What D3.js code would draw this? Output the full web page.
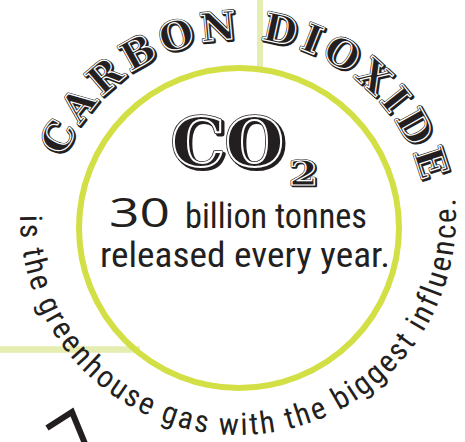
<!DOCTYPE html>
<html>
<head>
<meta charset="utf-8">
<script src="https://cdn.jsdelivr.net/npm/d3@7"></script>
<style>
  html, body { margin: 0; padding: 0; background: #fff; }
  svg { display: block; }
</style>
</head>
<body>
<div id="chart"></div>
<script>
// text content of the graphic
const headline = ["CARBON", "DIOXIDE"];
const formula = ["CO", "2"];
const statValue = ["30"];
const statLines = ["billion tonnes", "released every year."];
const caption = ["is the greenhouse gas with the biggest influence."];

const W = 465, H = 442;
const ink = '#231f20';
const green = '#d2df45';
const pale = '#e6edb0';

const svg = d3.select('#chart')
  .append('svg')
  .attr('width', W)
  .attr('height', H);

// ring centre / radius
const cx = 239, cy = 228, R = 160;

// pale connector lines (behind the ring)
svg.append('line')
  .attr('x1', 260).attr('x2', 260)
  .attr('y1', 0).attr('y2', cy - R + 2)
  .attr('stroke', pale).attr('stroke-width', 6);

svg.append('line')
  .attr('x1', 0).attr('x2', 140)
  .attr('y1', 349.5).attr('y2', 349.5)
  .attr('stroke', pale).attr('stroke-width', 6.5);

svg.append('circle')
  .attr('cx', cx).attr('cy', cy).attr('r', R)
  .attr('fill', 'none')
  .attr('stroke', green)
  .attr('stroke-width', 6);

const deg = d => d * Math.PI / 180;

// puts a string on an arc and spreads it to fill the arc
function arcText(id, ox, oy, r, a0, a1, ccw, str, font, layers) {
  const p = d3.path();
  p.arc(ox, oy, r, deg(a0), deg(a1), ccw);
  svg.append('path')
    .attr('id', id)
    .attr('d', p.toString())
    .attr('fill', 'none');

  const target = r * Math.abs(deg(a1) - deg(a0));

  // measure natural length
  const probe = svg.append('text')
    .style('font-family', font.family)
    .style('font-size', font.size + 'px')
    .style('font-weight', font.weight)
    .text(str);
  const len = probe.node().getComputedTextLength();
  probe.remove();
  const ls = (target - len) / str.length;

  layers.forEach(l => {
    svg.append('text')
      .attr('transform', `translate(${l.dx || 0},${l.dy || 0})`)
      .style('font-family', font.family)
      .style('font-size', font.size + 'px')
      .style('font-weight', font.weight)
      .style('letter-spacing', ls + 'px')
      .attr('fill', l.fill)
      .attr('stroke', l.stroke || 'none')
      .attr('stroke-width', l.sw || 0)
      .attr('stroke-linejoin', 'round')
      .append('textPath')
      .attr('href', '#' + id)
      .text(str);
  });
}

const serif = { family: '"DejaVu Serif", serif', size: 39, weight: 'bold' };
const engraved = [
  { dx: 1.4, dy: 1.4, fill: ink, stroke: ink, sw: 3 },
  { fill: ink, stroke: ink, sw: 2.4 },
  { fill: ink, stroke: '#fff', sw: 1.2 }
];

arcText('top-arc', cx, cy, 189, -158, -13, false,
  headline.join(' '), serif, engraved);

const hand = { family: '"Liberation Sans Narrow", "Roboto Condensed", "Open Sans", sans-serif', size: 31, weight: 'normal' };
arcText('bottom-arc', 238, 217, 218, 180.5, -5, true,
  caption[0], hand, [{ fill: ink }]);

// CO2 formula, engraved look
function engravedText(str, x, y, size, width, k) {
  [
    { dx: 2.2 * k, dy: 2.2 * k, fill: ink, stroke: ink, sw: 4.2 * k },
    { fill: ink, stroke: ink, sw: 3.6 * k },
    { fill: ink, stroke: '#fff', sw: 2 * k }
  ].forEach(l => {
    svg.append('text')
      .attr('x', x + (l.dx || 0))
      .attr('y', y + (l.dy || 0))
      .attr('textLength', width)
      .attr('lengthAdjust', 'spacingAndGlyphs')
      .style('font-family', '"DejaVu Serif", serif')
      .style('font-weight', 'bold')
      .style('font-size', size + 'px')
      .attr('fill', l.fill)
      .attr('stroke', l.stroke)
      .attr('stroke-width', l.sw)
      .attr('stroke-linejoin', 'round')
      .text(str);
  });
}

engravedText(formula[0], 171, 166, 68, 113, 1);
engravedText(formula[1], 289, 185, 34, 29, 0.6);

// the statistic
svg.append('text')
  .attr('x', 109).attr('y', 227)
  .attr('textLength', 61)
  .attr('lengthAdjust', 'spacingAndGlyphs')
  .style('font-family', '"Open Sans", sans-serif')
  .style('font-weight', 400)
  .style('font-size', '40px')
  .attr('fill', ink)
  .text(statValue[0]);

svg.append('text')
  .attr('x', 185).attr('y', 228)
  .attr('textLength', 182)
  .attr('lengthAdjust', 'spacingAndGlyphs')
  .style('font-family', hand.family)
  .style('font-size', '35px')
  .attr('fill', ink)
  .text(statLines[0]);

svg.append('text')
  .attr('x', 100).attr('y', 267)
  .attr('textLength', 290)
  .attr('lengthAdjust', 'spacingAndGlyphs')
  .style('font-family', hand.family)
  .style('font-size', '35px')
  .attr('fill', ink)
  .text(statLines[1]);

// arrow head at lower left
svg.append('path')
  .attr('d', d3.line()([[47, 428], [72, 412], [86, 446]]))
  .attr('fill', 'none')
  .attr('stroke', ink)
  .attr('stroke-width', 6)
  .attr('stroke-linejoin', 'miter');
</script>
</body>
</html>
